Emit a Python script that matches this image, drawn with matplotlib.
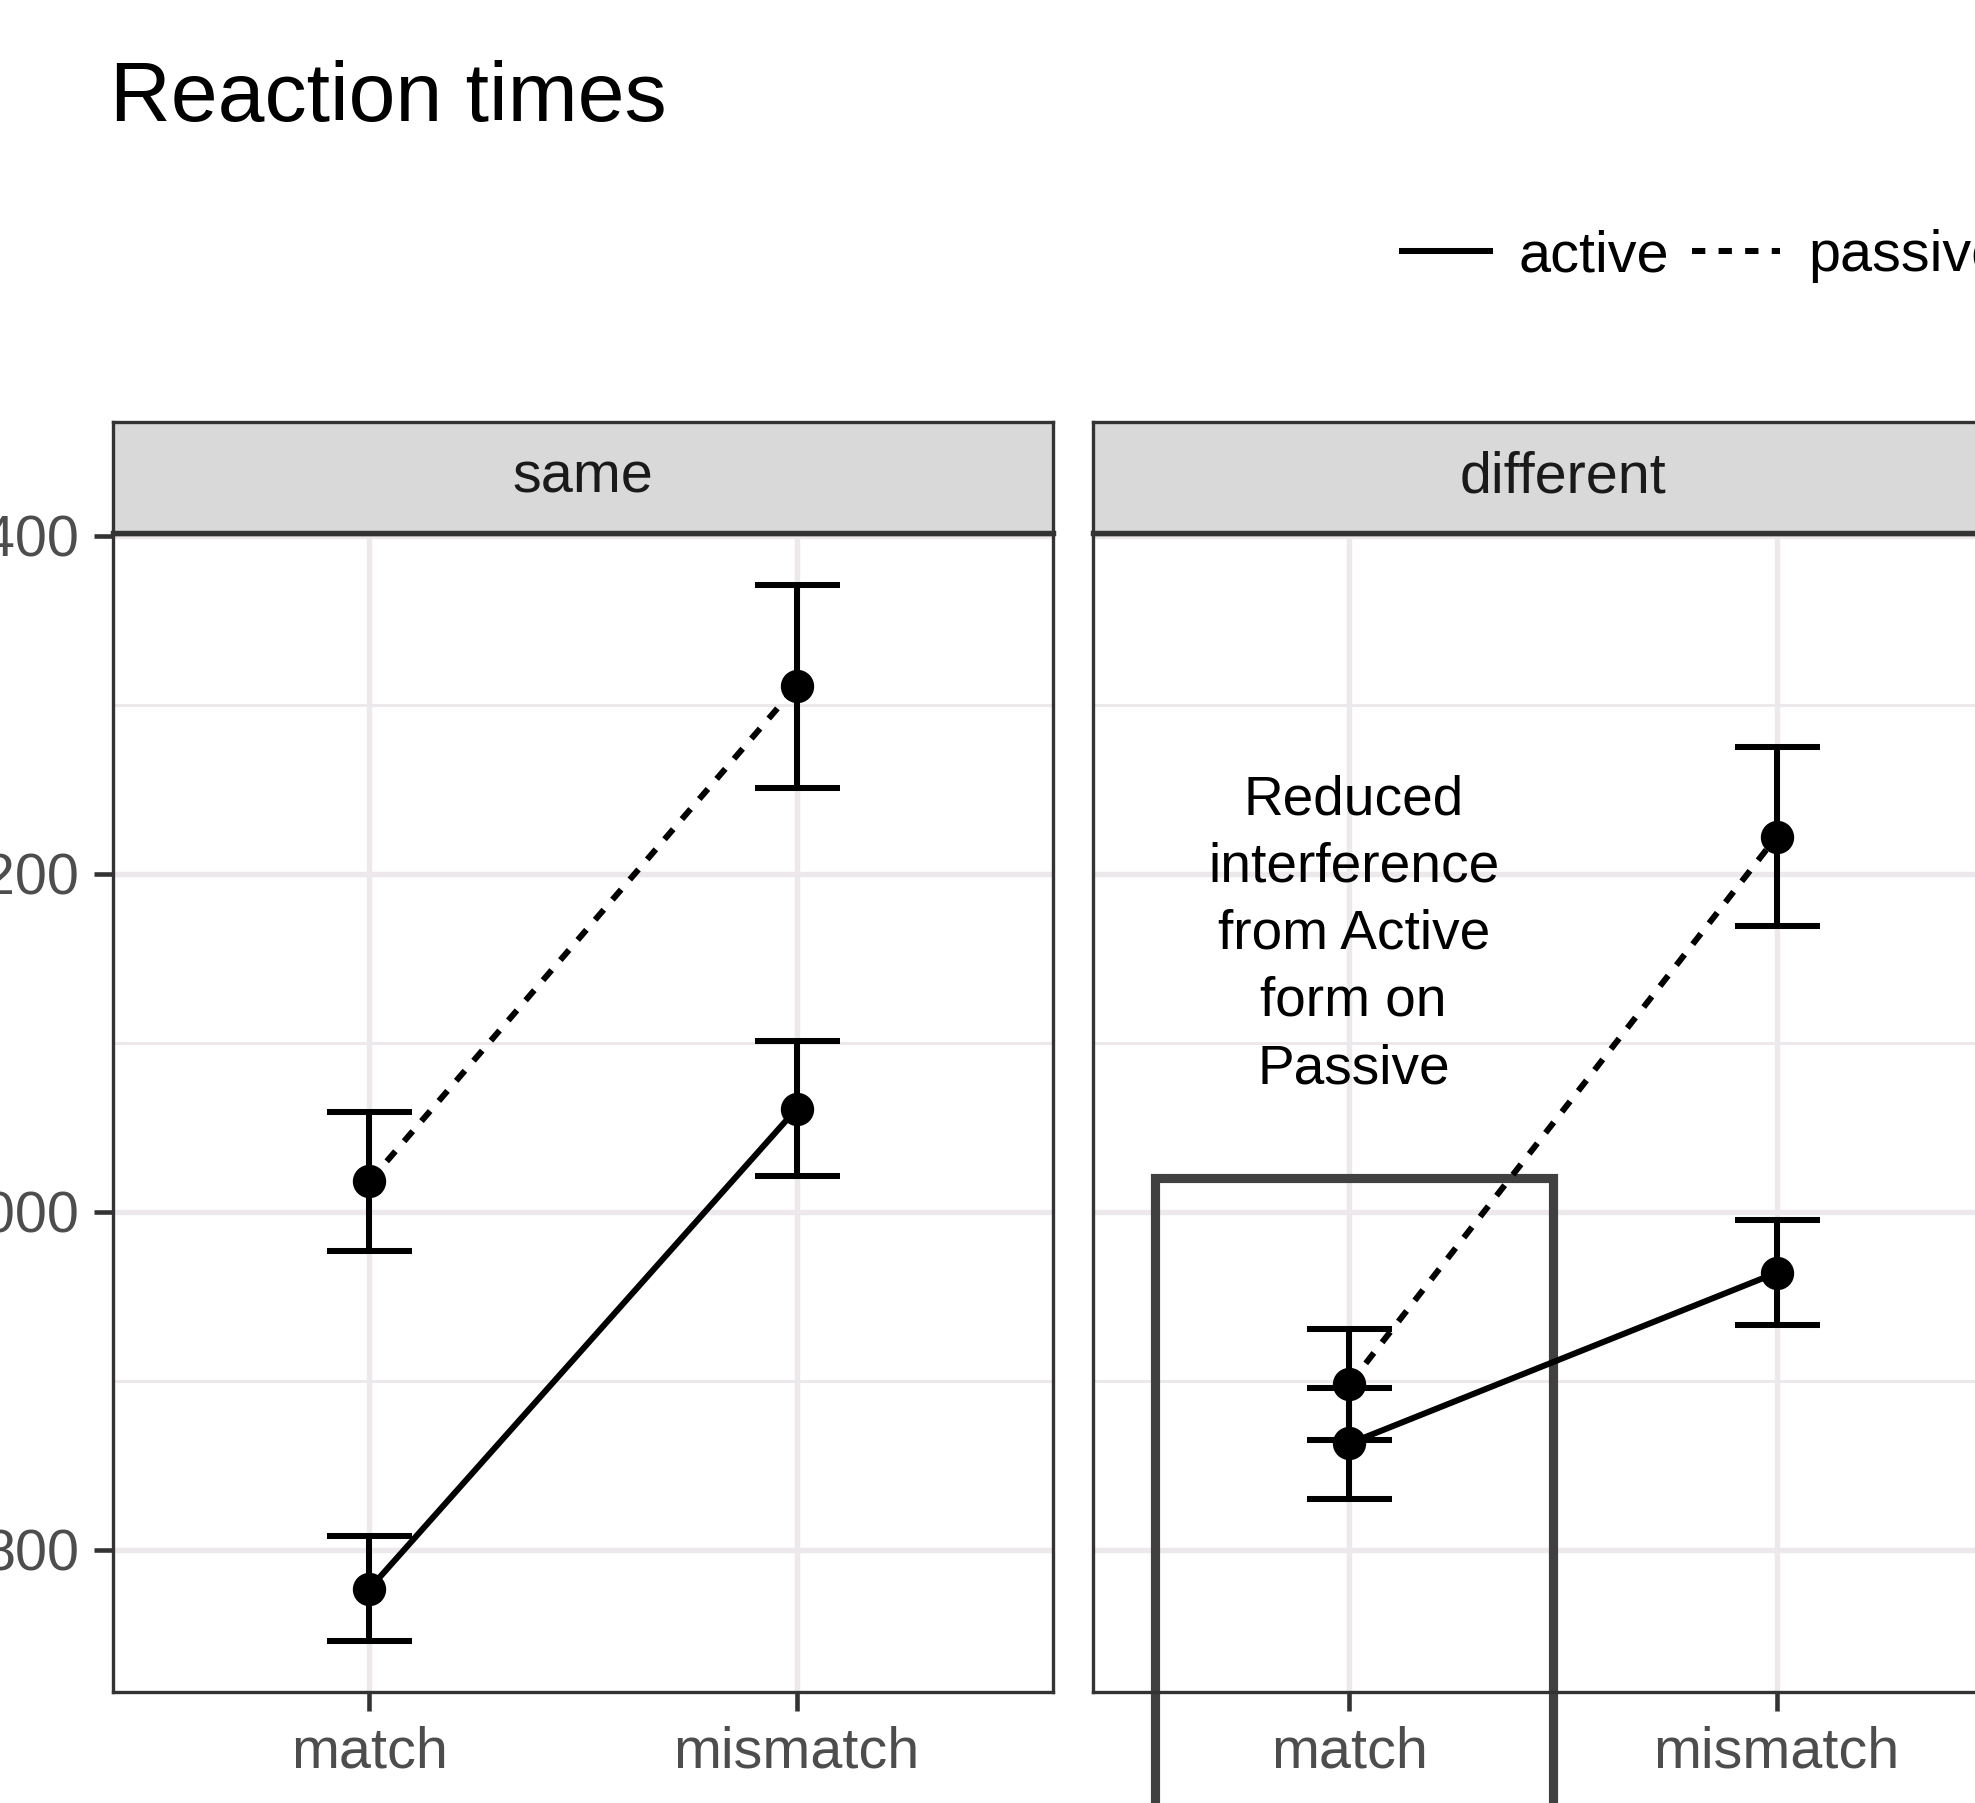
import numpy as np
import matplotlib
matplotlib.use('Agg')
import matplotlib.pyplot as plt
from matplotlib.lines import Line2D
from matplotlib.patches import Rectangle

plt.rcParams['font.family'] = ['Liberation Sans', 'DejaVu Sans']

# data (mean reaction time, error bar half-width)
conditions = ['match', 'mismatch']
facets = ['same', 'different']

same_active = [777, 1061]
same_active_err = [31, 40]
same_passive = [1018, 1311]
same_passive_err = [41, 60]

diff_active = [863, 964]
diff_active_err = [33, 31]
diff_passive = [898, 1222]
diff_passive_err = [33, 53]

y_ticks = [800, 1000, 1200, 1400]
y_minor = [900, 1100, 1300]
note = 'Reduced\ninterference\nfrom Active\nform on\nPassive'

W, H = 1975, 1803
fig = plt.figure(figsize=(W / 300, H / 300), dpi=300)

grid_col = '#EDE8EB'
frame_col = '#333333'
lw = 1.45
dash = (0, (2.2, 2.2))
x = np.arange(1, len(conditions) + 1)

panel_left = [113, 1093]
series = [(same_active, same_active_err, same_passive, same_passive_err),
          (diff_active, diff_active_err, diff_passive, diff_passive_err)]

axes = []
for i, name in enumerate(facets):
    ax = fig.add_axes([panel_left[i] / W, 1 - 1692 / H, 940 / W, 1158 / H])
    act, act_e, pas, pas_e = series[i]

    ax.errorbar(x, pas, yerr=pas_e, color='black', ls=dash, lw=lw,
                marker='o', ms=7, capsize=10.2, capthick=lw, elinewidth=lw)
    ax.errorbar(x, act, yerr=act_e, color='black', ls='-', lw=lw,
                marker='o', ms=7, capsize=10.2, capthick=lw, elinewidth=lw)

    ax.set_xlim(0.4, 2.6)
    ax.set_ylim(716, 1401)
    ax.set_xticks(x)
    ax.set_xticklabels(conditions)
    ax.set_yticks(y_ticks)
    ax.set_yticks(y_minor, minor=True)
    ax.set_axisbelow(True)
    ax.grid(which='major', color=grid_col, lw=1.3)
    ax.grid(which='minor', axis='y', color=grid_col, lw=0.7)
    ax.tick_params(which='major', length=4.5, width=1.1, color=frame_col,
                   labelsize=13.8, labelcolor='#4D4D4D', pad=3.5)
    ax.tick_params(which='minor', length=0)
    for s in ax.spines.values():
        s.set_color(frame_col)
        s.set_linewidth(0.8)
    if i == 1:
        ax.tick_params(axis='y', left=False, labelleft=False)

    # facet strip
    sax = fig.add_axes([panel_left[i] / W, 1 - 533 / H, 940 / W, 111 / H])
    sax.set_facecolor('#D9D9D9')
    sax.set_xticks([])
    sax.set_yticks([])
    for s in sax.spines.values():
        s.set_color(frame_col)
        s.set_linewidth(0.8)
    sax.spines['bottom'].set_linewidth(1.3)
    sax.text(0.5, 0.5, name, ha='center', va='center', fontsize=13.8,
             color='#1A1A1A', transform=sax.transAxes)
    axes.append(ax)

# annotation in the "different" panel
ax2 = axes[1]
ax2.add_patch(Rectangle((0.545, 600), 0.932, 1020 - 600, fill=False,
                        ec='#404040', lw=2.2, clip_on=False, zorder=1.5))
ax2.text(1.01, 1164, note, ha='center', va='center', fontsize=13.2,
         linespacing=1.38, color='black')

fig.text(110 / W, 1 - 121 / H, 'Reaction times', fontsize=20.2, va='baseline')

handles = [Line2D([], [], color='black', lw=lw),
           Line2D([], [], color='black', lw=lw, ls=dash)]
fig.legend(handles=handles, labels=['active', 'passive'], ncol=2,
           loc='center left', bbox_to_anchor=(1402 / W, 1 - 256 / H),
           frameon=False, fontsize=13.8, handlelength=1.53,
           handletextpad=0.49, columnspacing=0.4, borderpad=0,
           borderaxespad=0)

fig.savefig('out.png', dpi=300)
